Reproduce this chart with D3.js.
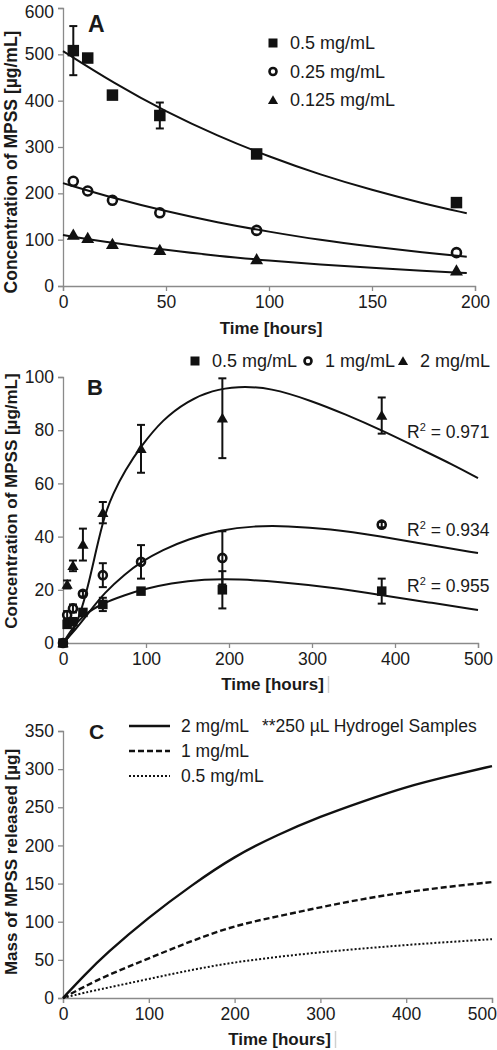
<!DOCTYPE html>
<html><head><meta charset="utf-8">
<script src="https://cdn.jsdelivr.net/npm/d3@7"></script>
<style>body{margin:0;background:#fff} svg{display:block;font-family:"Liberation Sans",Arial,sans-serif}</style>
</head><body><svg id="c" width="497" height="1050"></svg>
<script>
// ---------- Panel A data ----------
const timeA = [5, 12, 24, 47, 94, 191];
const concA_05 = [508, 492, 412, 368, 285, 180];
const errA_05 = [53, 0, 0, 28, 0, 0];
const concA_025 = [226, 205, 185, 158, 120, 72];
const concA_0125 = [110, 103, 90, 77, 57, 33];
const fitTimeA = [0, 25, 50, 75, 100, 125, 150, 175, 196];
const fitA_05 = [507, 437, 376, 324, 279, 240, 207, 178, 157];
const fitA_025 = [222, 189, 161, 137, 117, 99, 85, 72, 63];
const fitA_0125 = [110, 92, 78, 65, 55, 46, 39, 33, 28];
const legendA = ["0.5 mg/mL", "0.25 mg/mL", "0.125 mg/mL"];
const xTicksA = [0, 50, 100, 150, 200];
const yTicksA = [0, 100, 200, 300, 400, 500, 600];

// ---------- Panel B data ----------
const timeB = [0, 5, 12, 24, 48, 94, 192, 384];
const concB_05 = [0, 7, 8, 11.5, 14.5, 19.5, 20, 19.5];
const errB_05 = [0, 1, 1, 1, 2.5, 1, 7, 4.7];
const concB_1 = [0, 10.5, 13, 18.5, 25.5, 30.5, 32, 44.5];
const errB_1 = [0, 1.5, 1.5, 1, 4.5, 6.3, 10, 1];
const concB_2 = [0, 22, 29, 37, 49, 73, 84.5, 85.5];
const errB_2 = [0, 1.5, 2, 6, 4, 9, 15, 6.8];
const fitTimeB_2 = [0, 10, 20, 30, 40, 50, 60, 75, 94, 120, 150, 180, 210, 250, 300, 340, 384, 430, 470, 500];
const fitB_2 = [0, 3, 10, 21, 35, 48, 56, 65, 74, 84, 91, 95, 96.5, 96, 91, 86, 80, 73, 67, 62];
const fitTimeB_1 = [0, 15, 30, 50, 75, 94, 120, 150, 190, 230, 270, 320, 384, 440, 500];
const fitB_1 = [0, 5, 11, 19, 26, 30.5, 35, 39, 42.5, 44, 44, 43, 40, 37, 33.8];
const fitTimeB_05 = [0, 10, 24, 48, 75, 94, 130, 170, 212, 260, 320, 384, 440, 500];
const fitB_05 = [0, 5, 10.5, 15, 18, 20, 22.5, 24, 24, 23, 21, 18, 15.3, 12.4];
const legendB = ["0.5 mg/mL", "1 mg/mL", "2 mg/mL"];
const r2B = ["0.971", "0.934", "0.955"];
const xTicksB = [0, 100, 200, 300, 400, 500];
const yTicksB = [0, 20, 40, 60, 80, 100];

// ---------- Panel C data ----------
const timeC = [0, 25, 50, 100, 150, 200, 250, 300, 350, 400, 450, 500];
const massC_2 = [0, 30, 58, 106, 148, 186, 214, 238, 258, 277, 291, 304];
const massC_1 = [0, 15, 29, 52, 75, 95, 107, 119, 130, 139, 146, 152];
const massC_05 = [0, 7, 13, 25, 37, 47, 54, 60, 65, 69.5, 73.5, 77];
const legendC = ["2 mg/mL", "1 mg/mL", "0.5 mg/mL"];
const noteC = "**250 \u00B5L Hydrogel Samples";
const xTicksC = [0, 100, 200, 300, 400, 500];
const yTicksC = [0, 50, 100, 150, 200, 250, 300, 350];

const svg = d3.select("#c");
const AX = "#8a8a8a";
const TXT = "#1a1a1a";

function axes(g, x, y, xt, yt, xLabelY, yLabel, yLabelCy, yLabelSize, bar) {
  const xa = g.append("g").attr("transform", `translate(0,${y.range()[0]})`)
    .call(d3.axisBottom(x).tickValues(xt).tickSize(5).tickPadding(5).tickFormat(d3.format("d")));
  const ya = g.append("g").attr("transform", `translate(${x.range()[0]},0)`)
    .call(d3.axisLeft(y).tickValues(yt).tickSize(5).tickPadding(4).tickFormat(d3.format("d")));
  [xa, ya].forEach(a => {
    a.selectAll("path,line").attr("stroke", AX).attr("stroke-width", 1.3);
    a.selectAll("text").attr("fill", TXT).style("font-size", "17.5px");
  });
  // keep edge tick labels inside the canvas
  ya.selectAll(".tick text").filter(d => y(d) < 12).attr("dy", "0.55em");
  xa.selectAll(".tick text").filter(d => x(d) > 485).attr("text-anchor", "end").attr("x", 4.5);
  const cx = (x.range()[0] + x.range()[1]) / 2 + 2;
  g.append("text").attr("x", cx).attr("y", xLabelY)
    .attr("text-anchor", "middle").attr("font-weight", "bold").attr("fill", TXT).style("font-size", "17px").text("Time [hours]");
  if (bar) g.append("line").attr("x1", cx + 56).attr("x2", cx + 56).attr("y1", xLabelY - 14).attr("y2", xLabelY + 3)
    .attr("stroke", "#d0d0d0").attr("stroke-width", 1.5);
  g.append("text").attr("transform", `translate(17,${yLabelCy}) rotate(-90)`)
    .attr("text-anchor", "middle").attr("font-weight", "bold").attr("fill", TXT).style("font-size", yLabelSize + "px").text(yLabel);
}

function marker(g, type, cx, cy, s) {
  if (type === "sq") g.append("rect").attr("x", cx - s / 2).attr("y", cy - s / 2).attr("width", s).attr("height", s).attr("fill", "#111");
  else if (type === "ci") g.append("circle").attr("cx", cx).attr("cy", cy).attr("r", s / 2 - 1).attr("fill", "none").attr("stroke", "#111").attr("stroke-width", 2.6);
  else g.append("path").attr("d", d3.symbol(d3.symbolTriangle, s * s * 0.55)()).attr("transform", `translate(${cx},${cy + 1})`).attr("fill", "#111");
}

function errbar(g, cx, y, v, e) {
  if (!e) return;
  const y1 = y(v + e), y2 = y(v - e);
  g.append("line").attr("x1", cx).attr("x2", cx).attr("y1", y1).attr("y2", y2).attr("stroke", "#111").attr("stroke-width", 2);
  [y1, y2].forEach(yy => g.append("line").attr("x1", cx - 4).attr("x2", cx + 4).attr("y1", yy).attr("y2", yy).attr("stroke", "#111").attr("stroke-width", 2));
}

function fitLine(g, x, y, ts, vs, curve, dash, w) {
  const ln = d3.line().x(d => x(d[0])).y(d => y(d[1])).curve(curve || d3.curveMonotoneX);
  const p = g.append("path").attr("d", ln(ts.map((t, i) => [t, vs[i]]))).attr("fill", "none").attr("stroke", "#111").attr("stroke-width", w || 2);
  if (dash) p.attr("stroke-dasharray", dash);
}

// ---------- Panel A ----------
{
  const g = svg.append("g");
  const x = d3.scaleLinear().domain([0, 200]).range([63, 475]);
  const y = d3.scaleLinear().domain([0, 600]).range([286, 8]);
  axes(g, x, y, xTicksA, yTicksA, 334, "Concentration of MPSS [\u00B5g/mL]", 162, 17.5, false);
  fitLine(g, x, y, fitTimeA, fitA_05, d3.curveBasis);
  fitLine(g, x, y, fitTimeA, fitA_025, d3.curveBasis);
  fitLine(g, x, y, fitTimeA, fitA_0125, d3.curveBasis);
  timeA.forEach((t, i) => {
    errbar(g, x(t), y, concA_05[i], errA_05[i]);
    marker(g, "sq", x(t), y(concA_05[i]), 11.5);
    marker(g, "ci", x(t), y(concA_025[i]), 11);
    marker(g, "tr", x(t), y(concA_0125[i]), 11.5);
  });
  g.append("text").attr("x", 88).attr("y", 32).attr("font-weight", "bold").attr("fill", TXT).style("font-size", "23px").text("A");
  ["sq", "ci", "tr"].forEach((m, i) => {
    const cy = 43 + i * 28.5;
    marker(g, m, 273, cy, 9);
    g.append("text").attr("x", 290).attr("y", cy + 6).style("font-size", "18px").attr("fill", TXT).text(legendA[i]);
  });
}

// ---------- Panel B ----------
{
  const g = svg.append("g");
  const x = d3.scaleLinear().domain([0, 500]).range([63, 478]);
  const y = d3.scaleLinear().domain([0, 100]).range([643, 377]);
  axes(g, x, y, xTicksB, yTicksB, 690, "Concentration of MPSS [\u00B5g/mL]", 501, 17, true);
  fitLine(g, x, y, fitTimeB_2, fitB_2, d3.curveBasis);
  fitLine(g, x, y, fitTimeB_1, fitB_1, d3.curveBasis);
  fitLine(g, x, y, fitTimeB_05, fitB_05, d3.curveBasis);
  timeB.forEach((t, i) => {
    errbar(g, x(t), y, concB_2[i], errB_2[i]);
    errbar(g, x(t), y, concB_1[i], errB_1[i]);
    errbar(g, x(t), y, concB_05[i], errB_05[i]);
    marker(g, "tr", x(t), y(concB_2[i]), 10);
    marker(g, "ci", x(t), y(concB_1[i]), 10);
    marker(g, "sq", x(t), y(concB_05[i]), 9.5);
  });
  g.append("text").attr("x", 87).attr("y", 395).attr("font-weight", "bold").attr("fill", TXT).style("font-size", "22px").text("B");
  const lx = [195, 308, 403];
  ["sq", "ci", "tr"].forEach((m, i) => {
    marker(g, m, lx[i], 361, 9);
    g.append("text").attr("x", lx[i] + 17).attr("y", 367).style("font-size", "18px").attr("fill", TXT).text(legendB[i]);
  });
  const ry = [438, 536, 592];
  r2B.forEach((r, i) => {
    const t = g.append("text").attr("x", 407).attr("y", ry[i]).style("font-size", "17.5px").attr("fill", TXT);
    t.append("tspan").text("R");
    t.append("tspan").attr("dy", -7).style("font-size", "11px").text("2");
    t.append("tspan").attr("dy", 7).text(" = " + r);
  });
}

// ---------- Panel C ----------
{
  const g = svg.append("g");
  const x = d3.scaleLinear().domain([0, 500]).range([63, 492]);
  const y = d3.scaleLinear().domain([0, 350]).range([998, 731]);
  axes(g, x, y, xTicksC, yTicksC, 1045, "Mass of MPSS released [\u00B5g]", 862, 17, true);
  const styles = [[null, 2.4], ["6,3", 2.4], ["2,2", 2]];
  [massC_2, massC_1, massC_05].forEach((s, i) => fitLine(g, x, y, timeC, s, d3.curveBasis, styles[i][0], styles[i][1]));
  g.append("text").attr("x", 89).attr("y", 739).attr("font-weight", "bold").attr("fill", TXT).style("font-size", "21px").text("C");
  legendC.forEach((l, i) => {
    const cy = 726 + i * 25;
    const ln = g.append("line").attr("x1", 129).attr("x2", 170).attr("y1", cy).attr("y2", cy).attr("stroke", "#111").attr("stroke-width", styles[i][1]);
    if (styles[i][0]) ln.attr("stroke-dasharray", styles[i][0]);
    g.append("text").attr("x", 181).attr("y", cy + 6).style("font-size", "17.5px").attr("fill", TXT).text(l);
  });
  g.append("text").attr("x", 262).attr("y", 732).style("font-size", "17.5px").attr("fill", TXT).text(noteC);
}
</script></body></html>
